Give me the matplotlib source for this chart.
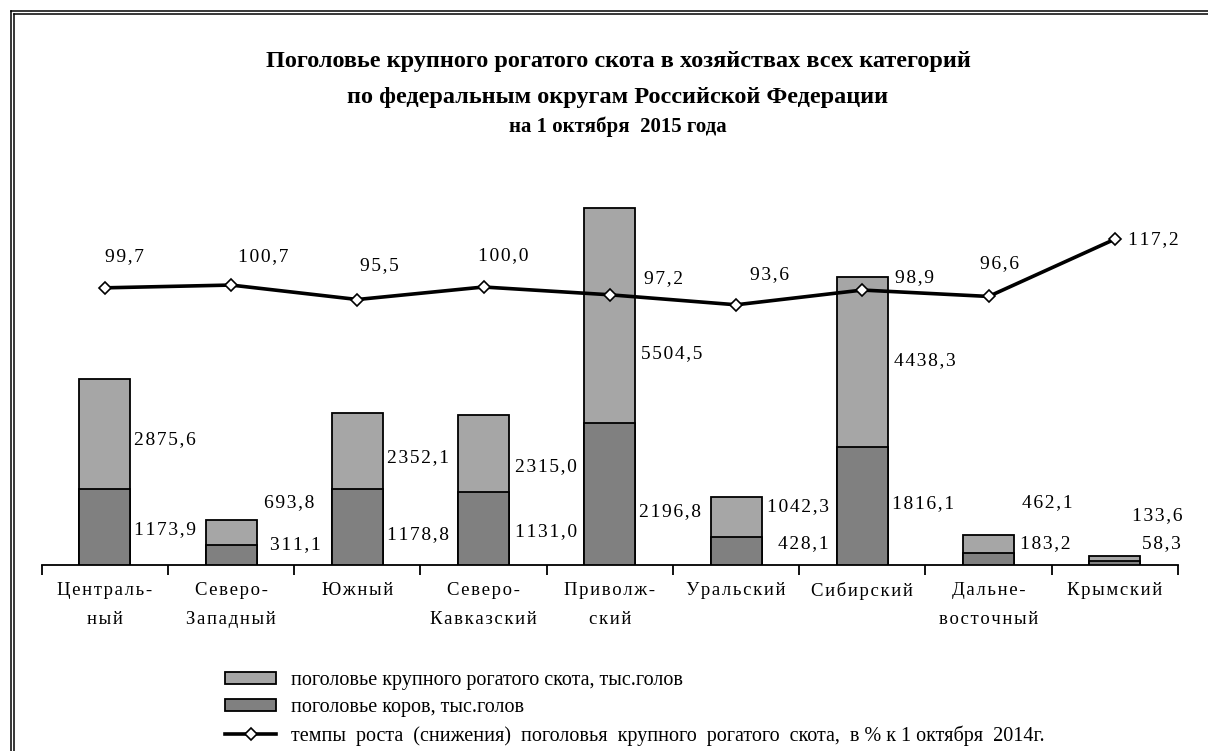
import numpy as np
import matplotlib
matplotlib.use("Agg")
import matplotlib.pyplot as plt
from matplotlib.lines import Line2D
from matplotlib.patches import Patch

plt.rcParams["font.family"] = ["Liberation Serif", "DejaVu Serif"]

# --- data ---
districts = ["Централь-\nный", "Северо-\nЗападный", "Южный", "Северо-\nКавказский",
             "Приволж-\nский", "Уральский", "Сибирский", "Дальне-\nвосточный", "Крымский"]
cattle = [2875.6, 693.8, 2352.1, 2315.0, 5504.5, 1042.3, 4438.3, 462.1, 133.6]
cows = [1173.9, 311.1, 1178.8, 1131.0, 2196.8, 428.1, 1816.1, 183.2, 58.3]
growth = [99.7, 100.7, 95.5, 100.0, 97.2, 93.6, 98.9, 96.6, 117.2]

# label offsets in pixels (dx from bar right edge / point, dy from top, + = up)
cattle_off = [(4, -61), (7, 17), (4, -45), (6, -52), (6, -145), (5, -9), (6, -83), (8, 32), (-8, 41)]
cows_off = [(4, -41), (13, 0), (4, -46), (6, -40), (4, -89), (16, -6), (4, -56), (6, 10), (2, 18)]
growth_off = [(20, 31), (32, 28), (22, 34), (20, 31), (54, 16), (33, 30), (52, 12), (11, 33), (39, 0)]

HS = "\u200a"  # hair space, imitates the wide letter spacing


def spaced(s):
    return "\n".join(HS.join(line) for line in s.split("\n"))


def fmt(v):
    return spaced(f"{v:.1f}".replace(".", ","))


W, H = 1208, 751
fig = plt.figure(figsize=(W / 100, H / 100), dpi=100)

ax_l, ax_r, ax_b, ax_t = 41.7, 1178, 565, 190
ax = fig.add_axes([ax_l / W, 1 - ax_b / H, (ax_r - ax_l) / W, (ax_b - ax_t) / H])
ax2 = ax.twinx()

x = np.arange(len(districts))
bw = 0.405
light, dark = "#a6a6a6", "#808080"

ax.bar(x, cattle, width=bw, color=light, edgecolor="black", linewidth=1.3, zorder=2)
ax.bar(x, cows, width=bw, color=dark, edgecolor="black", linewidth=1.3, zorder=3)

ax.set_xlim(-0.5, len(districts) - 0.5)
ax.set_ylim(0, (ax_b - ax_t) / 0.0648)
ax2.set_ylim(0, (ax_b - ax_t) / 2.78)

ax2.plot(x, growth, color="black", linewidth=2.6, marker="D", markersize=6,
         markerfacecolor="white", markeredgecolor="black", markeredgewidth=1.2, zorder=5)

for a in (ax, ax2):
    for s in ("top", "left", "right"):
        a.spines[s].set_visible(False)
    a.set_yticks([])
ax.spines["bottom"].set_linewidth(1.3)
ax2.spines["bottom"].set_visible(False)

ax.set_xticks(x)
ax.set_xticklabels([spaced(d) for d in districts], fontsize=13.5, linespacing=1.95)
ax.tick_params(axis="x", which="major", length=0, pad=12)
ax.set_xticks(np.arange(-0.5, len(districts)), minor=True)
ax.tick_params(axis="x", which="minor", length=7, width=1.3, direction="out")

lbl_kw = dict(textcoords="offset pixels", fontsize=14, va="center", ha="left")
for i in range(len(districts)):
    ax.annotate(fmt(cattle[i]), xy=(i + bw / 2, cattle[i]),
                xytext=cattle_off[i], zorder=6, **lbl_kw)
    ax.annotate(fmt(cows[i]), xy=(i + bw / 2, cows[i]),
                xytext=cows_off[i], zorder=6, **lbl_kw)
    ax2.annotate(fmt(growth[i]), xy=(i, growth[i]),
                 xytext=growth_off[i], textcoords="offset pixels", fontsize=14,
                 va="center", ha="center")

# title
fig.text(618 / W, 1 - 62 / H, "Поголовье крупного рогатого скота в хозяйствах всех категорий",
         ha="center", va="center", fontsize=17.5, fontweight="bold")
fig.text(618 / W, 1 - 97 / H, "по федеральным округам Российской Федерации",
         ha="center", va="center", fontsize=17.5, fontweight="bold")
fig.text(618 / W, 1 - 127 / H, "на 1 октября  2015 года",
         ha="center", va="center", fontsize=15, fontweight="bold")

# legend
handles = [
    Patch(facecolor=light, edgecolor="black", linewidth=1.3),
    Patch(facecolor=dark, edgecolor="black", linewidth=1.3),
    Line2D([], [], color="black", linewidth=2.6, marker="D", markersize=6,
           markerfacecolor="white", markeredgecolor="black", markeredgewidth=1.2),
]
labels = ["поголовье крупного рогатого скота, тыс.голов",
          "поголовье коров, тыс.голов",
          "темпы  роста  (снижения)  поголовья  крупного  рогатого  скота,  в % к 1 октября  2014г."]
fig.legend(handles, labels, loc="upper left", bbox_to_anchor=(225 / W, 1 - 671 / H),
           frameon=False, fontsize=14.5, handlelength=2.55, handleheight=0.5,
           handletextpad=0.75, labelspacing=0.4, borderpad=0, borderaxespad=0)

# double frame
for off in (10.5, 13.7):
    fig.add_artist(Line2D([off / W, 1], [1 - off / H, 1 - off / H], color="black",
                          linewidth=1.1, transform=fig.transFigure))
    fig.add_artist(Line2D([off / W, off / W], [1 - off / H, 0], color="black",
                          linewidth=1.1, transform=fig.transFigure))

fig.savefig("out.png", dpi=100)
